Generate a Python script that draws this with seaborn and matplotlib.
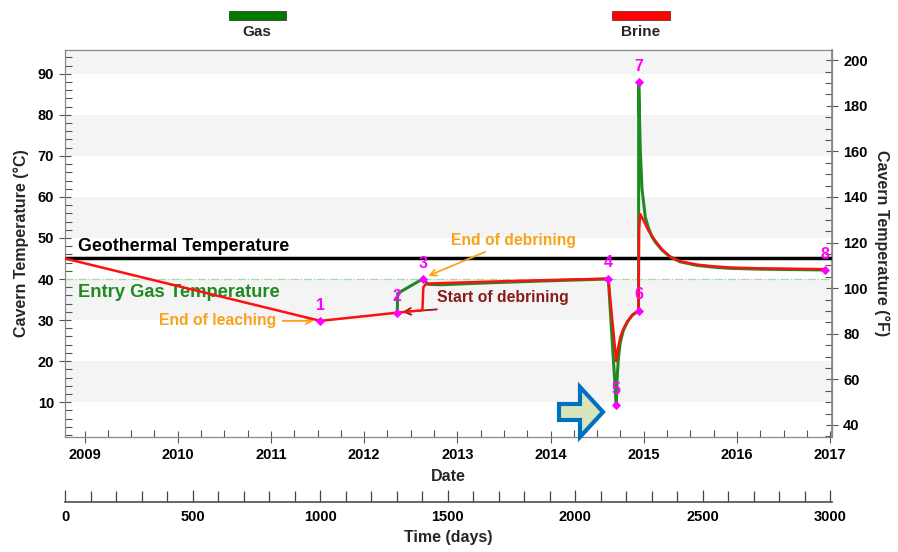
"""
Cavern temperature history: brine / gas temperature during leaching, debrining and first cycles.
"""
import numpy as np
import pandas as pd
import matplotlib
matplotlib.use("Agg")
import matplotlib.pyplot as plt
from matplotlib.patches import Rectangle, FancyArrow
from matplotlib.ticker import MultipleLocator
from matplotlib.transforms import IdentityTransform
import seaborn as sns

# ---- data (date as decimal year, temperature in degC) ----
brine_year = [2008.79, 2011.53, 2012.355, 2012.625, 2012.635, 2012.66, 2012.70, 2012.82,
              2013.25, 2013.89, 2014.62, 2014.705, 2014.727, 2014.748, 2014.78, 2014.823,
              2014.877, 2014.944, 2014.95, 2014.962, 2014.981, 2015.017, 2015.05, 2015.088,
              2015.124, 2015.198, 2015.284, 2015.391, 2015.574, 2015.746, 2015.928, 2016.25,
              2016.626, 2016.947]
brine_temp = [45.0, 29.8, 31.8, 32.4, 38.0, 38.7, 38.9, 39.0,
              39.3, 39.7, 40.1, 20.0, 23.5, 25.8, 27.8, 29.6,
              31.2, 32.3, 52.0, 55.8, 55.0, 53.4, 51.8, 50.5,
              49.3, 47.2, 45.4, 44.3, 43.5, 43.1, 42.8, 42.6,
              42.5, 42.4]

gas_year = [2012.355, 2012.36, 2012.627, 2012.69, 2012.82, 2013.25, 2013.89, 2014.62,
            2014.705, 2014.715, 2014.727, 2014.748, 2014.78, 2014.823, 2014.877, 2014.944,
            2014.946, 2014.962, 2014.981, 2015.017, 2015.05, 2015.088, 2015.124, 2015.198,
            2015.284, 2015.391, 2015.574, 2015.746, 2015.928, 2016.25, 2016.626, 2016.947]
gas_temp = [31.8, 36.5, 40.0, 38.7, 38.6, 39.0, 39.5, 40.0,
            9.3, 16.0, 20.5, 24.5, 27.4, 29.5, 31.2, 32.3,
            88.0, 72.0, 62.0, 55.0, 52.5, 50.3, 49.0, 47.0,
            45.4, 44.2, 43.3, 42.9, 42.6, 42.4, 42.3, 42.2]

point_labels = ["1", "2", "3", "4", "5", "6", "7", "8"]
point_year = [2011.53, 2012.355, 2012.627, 2014.62, 2014.705, 2014.946, 2014.946, 2016.947]
point_temp = [29.8, 31.8, 40.0, 40.1, 9.3, 32.3, 88.0, 42.2]

geothermal_temp = 45.0
entry_gas_temp = 40.0
day_zero = 2008.79

C_GREEN = "#1f8a1f"
C_RED = "#ff1010"
C_ORANGE = "#f9a21b"
C_DARKRED = "#8b1a1a"
C_MAGENTA = "#ff00ff"

sns.set_theme(style="white")
plt.rcParams["font.family"] = ["Liberation Sans", "DejaVu Sans"]
plt.rcParams["font.weight"] = "bold"
plt.rcParams["axes.labelweight"] = "bold"

fig = plt.figure(figsize=(8.98, 5.52), dpi=100)
ax = fig.add_axes([0.0724, 0.2083, 0.8541, 0.7011])

# alternating light bands
for lo in [10, 30, 50, 70, 90]:
    ax.axhspan(lo, lo + 10, color="#f4f4f4", zorder=0, lw=0)

ax.axhline(geothermal_temp, color="black", lw=2.5, zorder=2)
ax.axhline(entry_gas_temp, color="#a8d8a8", lw=0.9, ls="-.", zorder=1)

df_gas = pd.DataFrame({"year": gas_year, "temp": gas_temp})
df_brine = pd.DataFrame({"year": brine_year, "temp": brine_temp})
sns.lineplot(data=df_gas, x="year", y="temp", ax=ax, color=C_GREEN, lw=2.2,
             estimator=None, sort=False, zorder=3)
sns.lineplot(data=df_brine, x="year", y="temp", ax=ax, color=C_RED, lw=1.8,
             estimator=None, sort=False, zorder=4)

ax.scatter(point_year, point_temp, marker="D", s=22, color=C_MAGENTA, zorder=6, lw=0)
for lab, xx, yy in zip(point_labels, point_year, point_temp):
    ax.annotate(lab, (xx, yy), xytext=(0, 6), textcoords="offset points", ha="center",
                va="bottom", color=C_MAGENTA, fontsize=11.5, fontweight="bold", zorder=7)

# text annotations
ax.text(2008.93, 48.0, "Geothermal Temperature", fontsize=12.8, color="black", va="center")
ax.text(2008.93, 36.6, "Entry Gas Temperature", fontsize=13.2, color=C_GREEN, va="center")
ax.annotate("End of leaching", xy=(2011.49, 29.8), xytext=(2011.06, 29.8),
            fontsize=11.3, color=C_ORANGE, ha="right", va="center",
            arrowprops=dict(arrowstyle="->", color=C_ORANGE, lw=1.3))
ax.annotate("End of debrining", xy=(2012.66, 40.5), xytext=(2012.93, 49.5),
            fontsize=11.3, color=C_ORANGE, ha="left", va="center",
            arrowprops=dict(arrowstyle="->", color=C_ORANGE, lw=1.3, shrinkA=2))
ax.annotate("", xy=(2012.38, 31.9), xytext=(2012.78, 32.6),
            arrowprops=dict(arrowstyle="->", color=C_DARKRED, lw=1.3, shrinkA=0))
ax.text(2012.78, 35.4, "Start of debrining", fontsize=11.3, color=C_DARKRED, va="center")

ax.set_xlim(day_zero, 2017.02)
ax.set_ylim(1.5, 95.8)
ax.xaxis.set_major_locator(MultipleLocator(1))
ax.xaxis.set_minor_locator(MultipleLocator(0.25))
ax.yaxis.set_major_locator(MultipleLocator(10))
ax.yaxis.set_minor_locator(MultipleLocator(2))
ax.set_xticks(range(2009, 2018))
ax.set_yticks(range(10, 100, 10))
ax.tick_params(axis="both", which="major", direction="inout", length=9, width=0.8,
               colors="#555555", labelcolor="black", labelsize=10.5)
ax.tick_params(axis="both", which="minor", direction="in", length=5, width=0.8, colors="#555555")
ax.tick_params(axis="x", which="both", bottom=True, top=False)
ax.tick_params(axis="y", which="both", left=True, right=False)
for s in ax.spines.values():
    s.set_color("#888888")
    s.set_linewidth(0.9)
ax.set_xlabel("Date", fontsize=11.5, labelpad=5)
ax.set_ylabel("Cavern Temperature (\u00b0C)", fontsize=11.5, labelpad=6)

sec = ax.secondary_yaxis("right", functions=(lambda c: c * 9 / 5 + 32, lambda f: (f - 32) * 5 / 9))
sec.yaxis.set_major_locator(MultipleLocator(20))
sec.yaxis.set_minor_locator(MultipleLocator(5))
sec.tick_params(which="both", right=True)
sec.tick_params(which="major", direction="inout", length=9, width=0.8, colors="#555555",
                labelcolor="black", labelsize=10.5)
sec.tick_params(which="minor", direction="in", length=5, width=0.8, colors="#555555")
sec.spines["right"].set_color("#888888")
sec.set_ylabel("Cavern Temperature (\u00b0F)", fontsize=11.5, rotation=270, labelpad=16)

# days axis underneath
axd = fig.add_axes([0.0724, 0.0911, 0.8541, 0.0001])
axd.set_xlim(0, 3007)
axd.set_yticks([])
for side in ["left", "right", "top"]:
    axd.spines[side].set_visible(False)
axd.spines["bottom"].set_color("#555555")
axd.xaxis.set_major_locator(MultipleLocator(500))
axd.xaxis.set_minor_locator(MultipleLocator(100))
axd.tick_params(axis="x", which="both", bottom=True, top=False)
axd.tick_params(axis="x", which="major", direction="in", length=9, width=0.9,
                colors="#444444", labelcolor="black", labelsize=10.5, pad=6)
axd.tick_params(axis="x", which="minor", direction="in", length=8, width=0.9, colors="#444444")
axd.set_xlabel("Time (days)", fontsize=11.5, labelpad=4)
axd.patch.set_visible(False)

# phase legend on top
fig.add_artist(Rectangle((229 / 898, 1 - 20 / 552), 57 / 898, 9 / 552, transform=fig.transFigure,
                         fc="#007a00", ec="#2a4a2a", lw=0.6))
fig.text(257 / 898, 1 - 32 / 552, "Gas", ha="center", va="center", fontsize=11)
fig.add_artist(Rectangle((612 / 898, 1 - 20 / 552), 58 / 898, 9 / 552, transform=fig.transFigure,
                         fc="#ff0000", ec="#8a2a2a", lw=0.6))
fig.text(641 / 898, 1 - 32 / 552, "Brine", ha="center", va="center", fontsize=11)

# block arrow pointing at point 5
fig.add_artist(FancyArrow(559, 140, 44, 0, width=16, head_width=50, head_length=23,
                          length_includes_head=True, fc="#d8e4bc", ec="#0070c0", lw=3,
                          transform=IdentityTransform()))

fig.savefig("out.png", dpi=100)
